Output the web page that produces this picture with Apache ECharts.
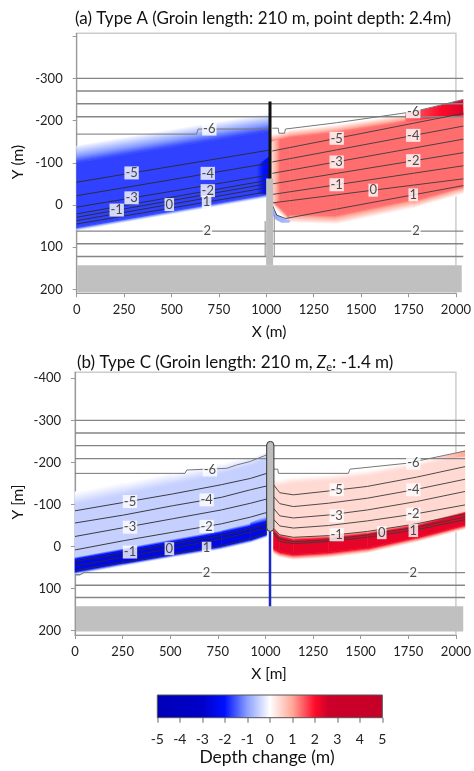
<!DOCTYPE html>
<html><head><meta charset="utf-8">
<script src="https://cdn.jsdelivr.net/npm/echarts@6/dist/echarts.min.js"></script>
<style>html,body{margin:0;padding:0;background:#fff}#c{width:474px;height:771px}</style>
</head><body><div id="c"></div>
<script>
// ================= DATA =================
// ---- Panel (a) ----
const A_OFFSHORE_LINES = [-300, -270, -240, -209];
const A_ONSHORE_LINES = [62, 92, 122];
const A_SIX_LEFT = [[0,-168],[620,-168],[628,-180],[995,-180]];
const A_SIX_RIGHT = [[1012,-182],[1043,-182],[1046,-170],[1075,-170],[1080,-180],[1345,-195],[1741,-221],[2000,-250]];
const A_LEFT_X = [0, 995];
const A_LEFT_CONTOURS = [[-54,-130],[-22,-99],[5,-71],[21,-59],[29,-51],[37,-42],[45,-32]]; // -5..1
const A_RIGHT_X = [1012, 2000];
const A_RIGHT_CONTOURS = [[-128,-217],[-102,-187],[-75,-156],[-50,-124],[-25,-93],[-5,-62]]; // -5..0
const A_RIGHT_ONE = [[1012,0],[1035,24],[1080,32],[2000,-46]];
const A_GROIN_WRAP = [[[975,38],[975,122]], [[1022,24],[1022,122]]];
const A_LABELS = [[284,-76,'-5'],[678,-75,'-4'],[284,-17,'-3'],[678,-34,'-2'],[207,12,'-1'],[479,-1,'0'],[672,-7,'1'],[686,-180,'-6'],[676,62,'2'],
  [1345,-158,'-5'],[1741,-165,'-4'],[1345,-102,'-3'],[1741,-105,'-2'],[1345,-48,'-1'],[1534,-35,'0'],[1741,-24,'1'],[1741,-221,'-6'],[1755,62,'2']];
// depth-change field, panel (a): edges (bottom -> top) and the depth change on each edge
const A_BLUE_X = [0, 995];
const A_BLUE_EDGES = [[60,-19],[53,-26],[-100,-175],[-140,-221]];
const A_BLUE_EDGE_VALUES = [-0.25, -1.65, -1.65, 0];
const A_RED_X = [1005, 1100, 1345, 1741, 2000];
const A_RED_EDGES = [[-2,42,46,8,-26],[-10,24,22,-12,-42],[-150,-160,-172,-200,-215],[-166,-177,-192,-217,-240]];
const A_RED_EDGE_VALUES = [0, 1.37, 1.37, 0];
const A_PATCH_POINTS = [
  [[930,-92],[998,-116],[998,-25],[930,-28]],
  [[1005,-150],[1052,-157],[1052,-10],[1005,0]],
  [[1700,-217],[1850,-233],[2000,-250],[2000,-212],[1850,-206],[1700,-196]],
  [[1008,-2],[1020,12],[1040,25],[1070,32],[1105,36],[1100,42],[1060,42],[1030,35],[1015,25],[1008,10]]
];
const A_PATCH_VALUES = [[-1.65,-2.3], [0.3,1.37], [1.4,2.4], [-0.9,-0.7]]; // left -> right
const A_LAND = [[3,143],[1992,207]];
const A_GROIN_BAR = [[980,-63],[1016,143]];
const A_GROIN_TIP = [[1000,-245],[1000,-63]];

// ---- Panel (b) ----
const B_OFFSHORE_LINES = [-300, -270, -240, -209];
const B_ONSHORE_LINES = [92, 121];
const B_TWO_LINE = [[0,67],[25,67],[45,62],[2000,62]];
const B_SIX_LEFT = [[0,-174],[564,-174],[573,-182],[778,-186],[829,-194],[897,-202],[983,-218]];
const B_SIX_RIGHT = [[1018,-184],[1040,-184],[1043,-174],[1402,-174],[1410,-184],[1701,-198],[2000,-227]];
const B_LEFT_X = [0,250,500,750,900,983];
const B_LEFT_CONTOURS = [
  [-85,-105,-125,-147,-162,-174],
  [-56,-75,-97,-117,-135,-144],
  [-24,-45,-66,-87,-103,-113],
  [8,-14,-34,-54,-70,-81],
  [35,16,-6,-26,-42,-52],
  [46,25,4,-18,-34,-44],
  [57,37,17,-2,-19,-34]];
const B_RIGHT_X = [1018,1050,1120,1299,1499,1751,2000];
const B_RIGHT_CONTOURS = [
  [-147,-128,-123,-132,-143,-165,-190],
  [-119,-102,-95,-103,-115,-136,-160],
  [-91,-73,-68,-75,-87,-107,-131],
  [-65,-49,-44,-50,-61,-78,-99],
  [-44,-28,-22,-26,-36,-54,-78],
  [-36,-18,-12,-16,-28,-46,-70],
  [-32,-12,-7,-12,-22,-40,-64]];
const B_LABELS = [[282,-107,'-5'],[675,-111,'-4'],[282,-46,'-3'],[675,-48,'-2'],[282,13,'-1'],[484,5,'0'],[675,4,'1'],[692,-182,'-6'],[675,62,'2'],
  [1342,-135,'-5'],[1735,-135,'-4'],[1342,-73,'-3'],[1735,-77,'-2'],[1342,-28,'-1'],[1573,-33,'0'],[1735,-38,'1'],[1735,-198,'-6'],[1735,62,'2']];
const B_BLUE_X = [0,250,500,750,900,983];
const B_BLUE_EDGES = [
  [66,45,25,6,-10,-23],
  [57,38,18,-2,-18,-29],
  [32,11,-10,-31,-46,-56],
  [24,3,-19,-39,-58,-76],
  [-99,-123,-147,-173,-192,-210],
  [-130,-153,-175,-199,-213,-225]];
const B_BLUE_EDGE_VALUES = [-0.35, -2.45, -2.45, -0.5, -0.5, 0];
const B_RED_X = [1018,1050,1120,1299,1499,1751,2000];
const B_RED_EDGES = [
  [17,25,31,26,15,-11,-41],
  [4,12,18,13,2,-22,-52],
  [-38,-22,-14,-18,-28,-48,-79],
  [-46,-30,-24,-28,-38,-56,-84],
  [-144,-144,-151,-157,-168,-190,-216],
  [-158,-160,-165,-170,-181,-202,-226]];
const B_RED_EDGE_VALUES = [0.15, 2.3, 2.3, 0.45, 0.42, 0.03];
const B_PATCH_POINTS = [[[1850,-212],[1930,-220],[2000,-229],[2000,-214],[1900,-208]]];
const B_PATCH_VALUES = [[0.4,1.0]];
const B_LAND = [[5,142],[1991,202]];
const B_GROIN_BAR = [[983,-250],[1020,-36]];
const B_GROIN_STEM = [[1000,-36],[1000,142]];

// ---- colour bar ----
const CB_RANGE = [-5, 5];

// ================= STYLE =================
const COLOR_STOPS = [[-5,'#0000b8'],[-3,'#0000c8'],[-2,'#0010ff'],[-1,'#8aa0ff'],[0,'#ffffff'],[1,'#ffa898'],[2,'#ff0a2a'],[2.6,'#cc0028'],[5,'#c60028']];
const FONT = 'Lato';
function hex2rgb(h){return [parseInt(h.slice(1,3),16),parseInt(h.slice(3,5),16),parseInt(h.slice(5,7),16)];}
function colorAt(v){
  if (v <= COLOR_STOPS[0][0]) return COLOR_STOPS[0][1];
  for (let i=1;i<COLOR_STOPS.length;i++){
    const [v1,c1]=COLOR_STOPS[i];
    if (v <= v1){
      const [v0,c0]=COLOR_STOPS[i-1];
      const t=(v-v0)/(v1-v0), a=hex2rgb(c0), b=hex2rgb(c1);
      return 'rgb('+a.map((x,k)=>Math.round(x+(b[k]-x)*t)).join(',')+')';
    }
  }
  return COLOR_STOPS[COLOR_STOPS.length-1][1];
}
function rampStops(v0, v1){
  const out=[];
  for (let k=0;k<=8;k++){ out.push({offset:k/8, color:colorAt(v0+(v1-v0)*k/8)}); }
  return out;
}
// quads between successive edges, one per x-segment
function bandQuads(xs, edges, vals){
  const out=[];
  for (let k=0;k<edges.length-1;k++){
    const lo=edges[k], hi=edges[k+1];
    for (let i=0;i<xs.length-1;i++){
      out.push({pts:[[xs[i],lo[i]],[xs[i+1],lo[i+1]],[xs[i+1],hi[i+1]],[xs[i],hi[i]]], v0:vals[k], v1:vals[k+1]});
    }
  }
  return out;
}
function fieldSeries(quads, gi){
  return {type:'custom', xAxisIndex:gi, yAxisIndex:gi, z:1, silent:true, clip:false,
    data: quads.map((p,i)=>[i]),
    renderItem:(params, api)=>{
      const q=quads[api.value(0)];
      const P=q.pts.map(p=>api.coord(p));
      let fill;
      if (Math.abs(q.v0-q.v1)<1e-9) fill=colorAt(q.v0);
      else {
        const A=[(P[0][0]+P[1][0])/2,(P[0][1]+P[1][1])/2], B=[(P[3][0]+P[2][0])/2,(P[3][1]+P[2][1])/2];
        let dx=P[1][0]-P[0][0], dy=P[1][1]-P[0][1]; const L=Math.hypot(dx,dy)||1; dx/=L; dy/=L;
        const n=[-dy,dx]; const pr=(B[0]-A[0])*n[0]+(B[1]-A[1])*n[1];
        fill=new echarts.graphic.LinearGradient(A[0],A[1],A[0]+n[0]*pr,A[1]+n[1]*pr, rampStops(q.v0,q.v1), true);
      }
      return {type:'polygon', shape:{points:P}, style:{fill, stroke:fill, lineWidth:0.6}};
    }};
}
function patchSeries(points, vals, gi){
  return {type:'custom', xAxisIndex:gi, yAxisIndex:gi, z:1.5, silent:true, clip:false,
    data: points.map((p,i)=>[i]),
    renderItem:(params, api)=>{
      const i=api.value(0), v=vals[i];
      const fill=(v[0]===v[1])?colorAt(v[0]):new echarts.graphic.LinearGradient(0,0,1,0, rampStops(v[0],v[1]));
      return {type:'polygon', shape:{points:points[i].map(p=>api.coord(p))}, style:{fill}};
    }};
}
function lineS(pts, gi, color, width, z){
  return {type:'line', xAxisIndex:gi, yAxisIndex:gi, data:pts, symbol:'none', showSymbol:false, silent:true, z:z||2,
    lineStyle:{color, width}};
}
function labelSeries(items, gi){
  return {type:'scatter', xAxisIndex:gi, yAxisIndex:gi, data:items, symbol:'rect', symbolSize:1, z:8, silent:true,
    itemStyle:{color:'rgba(0,0,0,0)'},
    label:{show:true, position:'inside', formatter:p=>p.data[2], fontSize:13, fontFamily:FONT, color:'#222',
      backgroundColor:'#fff', padding:[1,1,0,1], lineHeight:12}};
}
function rectSeries(r, gi, fill, z, extra){
  return {type:'custom', xAxisIndex:gi, yAxisIndex:gi, z:z, silent:true, clip:false, data:[[0]],
    renderItem:(params, api)=>{
      const p0=api.coord(r[0]), p1=api.coord(r[1]);
      return {type:'rect', shape:Object.assign({x:Math.min(p0[0],p1[0]), y:Math.min(p0[1],p1[1]), width:Math.abs(p1[0]-p0[0]), height:Math.abs(p1[1]-p0[1])}, extra&&extra.shape||{}),
        style:Object.assign({fill}, extra&&extra.style||{})};
    }};
}

// ================= BUILD =================
const series=[];
function panel(gi, quads, patches, patchVals, offshore, onshore, leftX, leftC, rightX, rightC, sixL, sixR, labels){
  series.push(fieldSeries(quads, gi));
  series.push(patchSeries(patches, patchVals, gi));
  offshore.concat(onshore).forEach(y=>series.push(lineS([[0,y],[2000,y]], gi, '#858585', 1.4)));
  series.push(lineS(sixL, gi, '#777', 1));
  series.push(lineS(sixR, gi, '#777', 1));
  leftC.forEach(c=>series.push(lineS(leftX.map((x,i)=>[x,c[i]]), gi, '#2a2a2a', 0.9)));
  rightC.forEach(c=>series.push(lineS(rightX.map((x,i)=>[x,c[i]]), gi, '#3a3a3a', 0.9)));
  series.push(labelSeries(labels, gi));
}
panel(0, bandQuads(A_BLUE_X, A_BLUE_EDGES, A_BLUE_EDGE_VALUES).concat(bandQuads(A_RED_X, A_RED_EDGES, A_RED_EDGE_VALUES)),
  A_PATCH_POINTS, A_PATCH_VALUES, A_OFFSHORE_LINES, A_ONSHORE_LINES, A_LEFT_X, A_LEFT_CONTOURS, A_RIGHT_X, A_RIGHT_CONTOURS, A_SIX_LEFT, A_SIX_RIGHT, A_LABELS);
series.push(lineS(A_RIGHT_ONE, 0, '#3a3a3a', 0.9));
A_GROIN_WRAP.forEach(w=>series.push(lineS(w, 0, '#8a8a8a', 1)));
series.push(rectSeries(A_LAND, 0, '#c0c0c0', 4));
series.push(rectSeries(A_GROIN_BAR, 0, '#bdbdbd', 5));
series.push(lineS(A_GROIN_TIP, 0, '#111', 3, 6));

panel(2, bandQuads(B_BLUE_X, B_BLUE_EDGES, B_BLUE_EDGE_VALUES).concat(bandQuads(B_RED_X, B_RED_EDGES, B_RED_EDGE_VALUES)),
  B_PATCH_POINTS, B_PATCH_VALUES, B_OFFSHORE_LINES, B_ONSHORE_LINES, B_LEFT_X, B_LEFT_CONTOURS, B_RIGHT_X, B_RIGHT_CONTOURS, B_SIX_LEFT, B_SIX_RIGHT, B_LABELS);
series.push(lineS(B_TWO_LINE, 2, '#858585', 1.4));
series.push(rectSeries(B_LAND, 2, '#c0c0c0', 4));
series.push(lineS(B_GROIN_STEM, 2, '#1a28c8', 2.5, 5));
series.push(rectSeries(B_GROIN_BAR, 2, '#bdbdbd', 6, {shape:{r:4}, style:{stroke:'#333', lineWidth:1}}));

// colour bar
series.push({type:'custom', xAxisIndex:4, yAxisIndex:4, z:2, silent:true, data:[[0]],
  renderItem:(params, api)=>{
    const p0=api.coord([CB_RANGE[0],1]), p1=api.coord([CB_RANGE[1],0]);
    return {type:'rect', shape:{x:p0[0], y:p0[1], width:p1[0]-p0[0], height:p1[1]-p0[1]},
      style:{fill:new echarts.graphic.LinearGradient(0,0,1,0, COLOR_STOPS.map(([v,c])=>({offset:(v-CB_RANGE[0])/(CB_RANGE[1]-CB_RANGE[0]), color:c}))),
        stroke:'#555', lineWidth:1}};
  }});

const grids=[
  {left:76.7, top:36.2, width:386.6, height:253.2},
  {left:76.7, top:33.3, width:386.6, height:260, show:true, borderColor:'#cccccc', borderWidth:1.5},
  {left:75, top:378.3, width:390, height:252.4},
  {left:75, top:372.3, width:390, height:262.7, show:true, borderColor:'#cccccc', borderWidth:1.5},
  {left:157.3, top:695, width:225, height:22.7}
];
const hidden={show:false};
function dataX(gi){return {type:'value', gridIndex:gi, min:0, max:2000, show:false};}
function dataY(gi, hideTop){return {type:'value', gridIndex:gi, min:-400, max:200, interval:100, inverse:true,
  axisLine:hidden, splitLine:hidden, axisTick:{show:true, length:4, lineStyle:{color:'#999'}},
  axisLabel:{fontSize:13, fontFamily:FONT, color:'#222', margin:14, formatter:v=>(hideTop&&v===-400)?'':String(v)}};}
function frameX(gi){return {type:'value', gridIndex:gi, min:0, max:2000, interval:250, splitLine:hidden,
  axisLine:{show:true, lineStyle:{color:'#999', width:1.2}}, axisTick:{show:true, length:4, lineStyle:{color:'#999'}},
  axisLabel:{fontSize:13, fontFamily:FONT, color:'#222', margin:10, formatter:v=>String(v)}};}
function frameY(gi){return {type:'value', gridIndex:gi, min:0, max:1, axisLabel:hidden, axisTick:hidden, splitLine:hidden,
  axisLine:{show:true, lineStyle:{color:'#999', width:1.2}}};}

const option={
  animation:false,
  textStyle:{fontFamily:FONT},
  grid:grids,
  xAxis:[dataX(0), frameX(1), dataX(2), frameX(3),
    {type:'value', gridIndex:4, min:CB_RANGE[0], max:CB_RANGE[1], interval:1, splitLine:hidden, axisLine:hidden,
     axisTick:{show:true, length:5, lineStyle:{color:'#999', width:1.5}},
     axisLabel:{fontSize:14, fontFamily:FONT, color:'#222', margin:15, formatter:v=>String(v)}}],
  yAxis:[dataY(0,true), frameY(1), dataY(2,false), frameY(3),
    {type:'value', gridIndex:4, min:0, max:1, show:false}],
  series,
  graphic:{elements:[
    {type:'text', x:263, y:19, style:{text:'(a) Type A (Groin length: 210 m, point depth: 2.4m)', fontSize:17, fontFamily:FONT, fill:'#111', textAlign:'center', textVerticalAlign:'middle'}},
    {type:'text', x:18, y:162, rotation:Math.PI/2, style:{text:'Y (m)', fontSize:15.5, fontFamily:FONT, fill:'#111', textAlign:'center', textVerticalAlign:'middle'}},
    {type:'text', x:269, y:331.5, style:{text:'X (m)', fontSize:15.5, fontFamily:FONT, fill:'#111', textAlign:'center', textVerticalAlign:'middle'}},
    {type:'text', x:77, y:362.5, style:{text:'{n|(b) Type C (Groin length: 210 m, }{z|Z}{s|e}{n|: -1.4 m)}', fontFamily:FONT, fill:'#111', textVerticalAlign:'middle',
      rich:{n:{fontSize:17, fontFamily:FONT, lineHeight:20, verticalAlign:'middle'}, z:{fontSize:17, fontStyle:'italic', fontFamily:FONT, lineHeight:20, verticalAlign:'middle'}, s:{fontSize:11, fontFamily:FONT, lineHeight:10, verticalAlign:'bottom'}}}},
    {type:'text', x:18, y:502, rotation:Math.PI/2, style:{text:'Y [m]', fontSize:15.5, fontFamily:FONT, fill:'#111', textAlign:'center', textVerticalAlign:'middle'}},
    {type:'text', x:269, y:674, style:{text:'X [m]', fontSize:15.5, fontFamily:FONT, fill:'#111', textAlign:'center', textVerticalAlign:'middle'}},
    {type:'text', x:267, y:757, style:{text:'Depth change (m)', fontSize:17.5, fontFamily:FONT, fill:'#111', textAlign:'center', textVerticalAlign:'middle'}}
  ]}
};
const chart=echarts.init(document.getElementById('c'), null, {renderer:'canvas'});
chart.setOption(option);
</script></body></html>
